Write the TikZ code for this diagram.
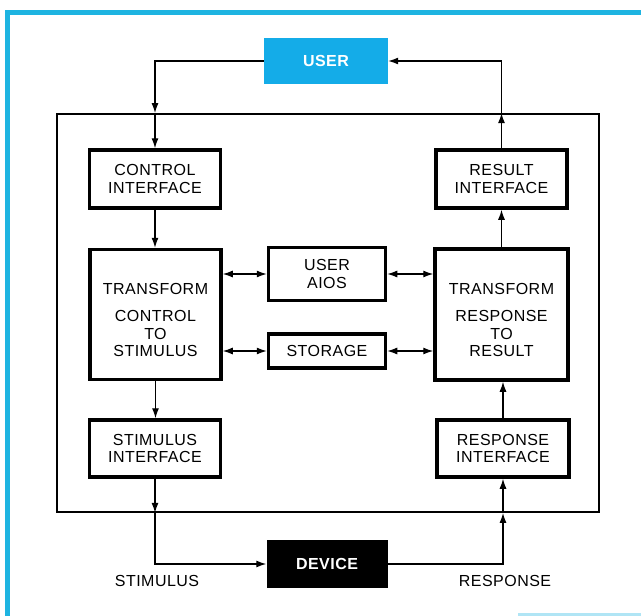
\documentclass[tikz,border=0pt]{standalone}
\usepackage{fontspec}
\setmainfont{Liberation Sans}[LetterSpace=3]
\usetikzlibrary{arrows.meta,positioning}
\definecolor{UserCyan}{RGB}{20,172,232}
\definecolor{FrameCyan}{RGB}{30,180,225}

\begin{document}
\begin{tikzpicture}[x=1pt,y=-1pt,
    box/.style={draw=black, line width=3.5pt, align=center, inner sep=2pt, font=\fontsize{16}{17.5}\selectfont},
    endbox/.style={align=center, text=white, font=\fontsize{16}{17.5}\selectfont\bfseries},
    lbl/.style={font=\fontsize{16}{17.5}\selectfont},
    arr/.style={-{Latex[length=10pt,width=7pt]}, line width=1.3pt},
    biarr/.style={{Latex[length=10pt,width=7pt]}-{Latex[length=10pt,width=7pt]}, line width=1.3pt}
  ]
  \useasboundingbox (0,0) rectangle (641,616);
  \fill[white] (0,0) rectangle (641,616);
  % page border
  \draw[FrameCyan, line width=5pt] (7.5,616) -- (7.5,12) -- (641,12);
  \draw[FrameCyan!35, line width=3pt] (518,614.5) -- (641,614.5);

  % system frame
  \node[draw=black, line width=1.8pt, minimum width=542pt, minimum height=398pt] (sys) at (328,313) {};

  \node[endbox, fill=UserCyan, minimum width=124pt, minimum height=46pt] (user) at (326,61) {USER};
  \node[endbox, fill=black, minimum width=121pt, minimum height=48pt] (device) at (327,564) {DEVICE};

  \node[box, minimum width=131pt, minimum height=58pt] (ctrl) at (155,179) {CONTROL\\INTERFACE};
  \node[box, minimum width=131pt, minimum height=130pt] (tleft) at (155.5,314.5) {\rule{0pt}{22pt}TRANSFORM\\[10pt]CONTROL\\TO\\STIMULUS};
  \node[box, minimum width=131pt, minimum height=57pt] (stim) at (155,448.5) {STIMULUS\\INTERFACE};

  \node[box, minimum width=131pt, minimum height=58pt] (result) at (501.5,179) {RESULT\\INTERFACE};
  \node[box, minimum width=133pt, minimum height=131pt] (tright) at (501.5,314.5) {\rule{0pt}{22pt}TRANSFORM\\[10pt]RESPONSE\\TO\\RESULT};
  \node[box, minimum width=132pt, minimum height=57pt] (resp) at (503,448.5) {RESPONSE\\INTERFACE};

  \node[box, minimum width=117pt, minimum height=53pt] (aios) at (327,274) {USER\\AIOS};
  \node[box, minimum width=117pt, minimum height=34pt] (store) at (327,351) {STORAGE};

  \node[lbl] (stimlbl) at (157,581) {STIMULUS};
  \node[lbl] (resplbl) at (505,581) {RESPONSE};

  % control path
  \draw[arr] (user.west) -| (ctrl.north |- sys.north);
  \draw[arr] (ctrl.north |- sys.north) -- (ctrl.north);
  \draw[arr] (ctrl.south) -- (ctrl.south |- tleft.north);
  \draw[arr] (tleft.south) -- (tleft.south |- stim.north);
  \draw[arr] (stim.south) -- (stim.south |- sys.south);
  \draw[arr] (stim.south |- sys.south) |- (device.west);
  % response path
  \draw[arr] (device.east) -| (resp.south |- sys.south);
  \draw[arr] (resp.south |- sys.south) -- (resp.south);
  \draw[arr] (resp.north) -- (resp.north |- tright.south);
  \draw[arr] (tright.north) -- (tright.north |- result.south);
  \draw[arr] (result.north) -- (result.north |- sys.north);
  \draw[arr] (result.north |- sys.north) |- (user.east);
  % aids and storage
  \draw[biarr] (tleft.east |- aios.west) -- (aios.west);
  \draw[biarr] (aios.east) -- (aios.east -| tright.west);
  \draw[biarr] (tleft.east |- store.west) -- (store.west);
  \draw[biarr] (store.east) -- (store.east -| tright.west);
\end{tikzpicture}
\end{document}
